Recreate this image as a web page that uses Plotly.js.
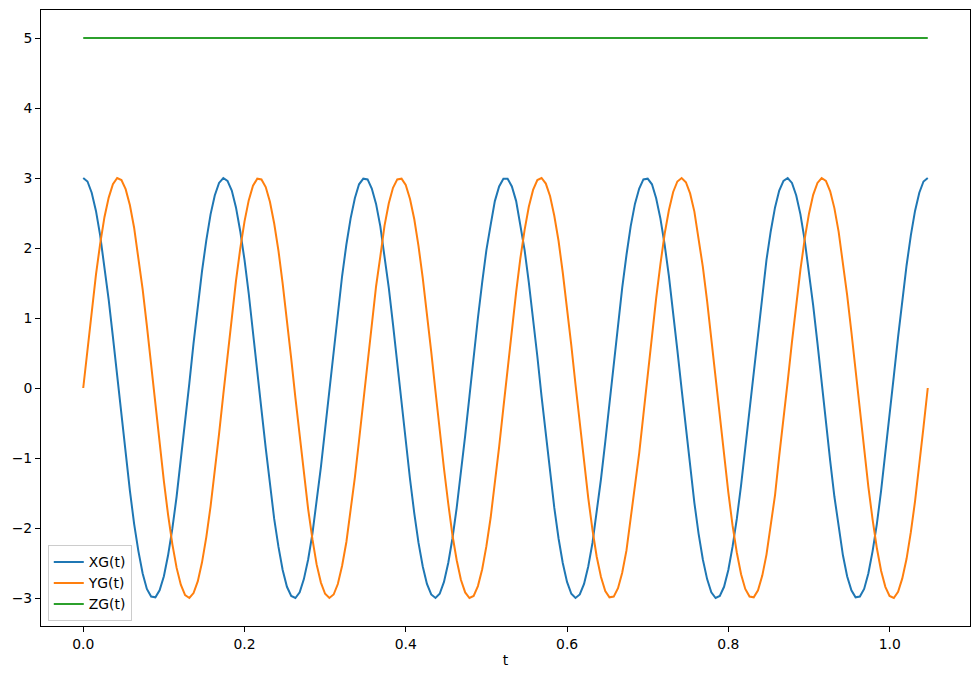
<!DOCTYPE html>
<html>
<head>
<meta charset="utf-8">
<script src="https://cdn.plot.ly/plotly-3.0.1.min.js"></script>
<style>html,body{margin:0;padding:0;background:#fff}#chart{width:980px;height:679px}</style>
</head>
<body>
<div id="chart"></div>
<script>
const t = [0,0.0053,0.0105,0.0158,0.0210,0.0263,0.0316,0.0368,0.0421,0.0474,0.0526,0.0579,0.0631,0.0684,0.0737,0.0789,0.0842,0.0895,0.0947,0.1000,0.1052,0.1105,0.1158,0.1210,0.1263,0.1316,0.1368,0.1421,0.1473,0.1526,0.1579,0.1631,0.1684,0.1737,0.1789,0.1842,0.1894,0.1947,0.2000,0.2052,0.2105,0.2158,0.2210,0.2263,0.2315,0.2368,0.2421,0.2473,0.2526,0.2579,0.2631,0.2684,0.2736,0.2789,0.2842,0.2894,0.2947,0.2999,0.3052,0.3105,0.3157,0.3210,0.3263,0.3315,0.3368,0.3420,0.3473,0.3526,0.3578,0.3631,0.3684,0.3736,0.3789,0.3841,0.3894,0.3947,0.3999,0.4052,0.4105,0.4157,0.4210,0.4262,0.4315,0.4368,0.4420,0.4473,0.4526,0.4578,0.4631,0.4683,0.4736,0.4789,0.4841,0.4894,0.4947,0.4999,0.5052,0.5104,0.5157,0.5210,
0.5262,0.5315,0.5368,0.5420,0.5473,0.5525,0.5578,0.5631,0.5683,0.5736,0.5789,0.5841,0.5894,0.5946,0.5999,0.6052,0.6104,0.6157,0.6210,0.6262,0.6315,0.6367,0.6420,0.6473,0.6525,0.6578,0.6631,0.6683,0.6736,0.6788,0.6841,0.6894,0.6946,0.6999,0.7052,0.7104,0.7157,0.7209,0.7262,0.7315,0.7367,0.7420,0.7473,0.7525,0.7578,0.7630,0.7683,0.7736,0.7788,0.7841,0.7893,0.7946,0.7999,0.8051,0.8104,0.8157,0.8209,0.8262,0.8314,0.8367,0.8420,0.8472,0.8525,0.8578,0.8630,0.8683,0.8735,0.8788,0.8841,0.8893,0.8946,0.8999,0.9051,0.9104,0.9156,0.9209,0.9262,0.9314,0.9367,0.9420,0.9472,0.9525,0.9577,0.9630,0.9683,0.9735,0.9788,0.9841,0.9893,0.9946,0.9998,1.0051,1.0104,1.0156,1.0209,1.0262,1.0314,1.0367,1.0419,1.0472];

const xg = [3.00,2.95,2.79,2.53,2.18,1.75,1.26,0.73,0.17,-0.40,-0.95,-1.47,-1.94,-2.33,-2.65,-2.87,-2.98,-2.99,-2.89,-2.69,-2.39,-2.01,-1.55,-1.04,-0.50,0.07,0.64,1.18,1.67,2.11,2.48,2.75,2.93,3.00,2.96,2.82,2.58,2.24,1.83,1.35,0.82,0.26,-0.31,-0.86,-1.39,-1.87,-2.27,-2.60,-2.84,-2.97,-3.00,-2.92,-2.73,-2.45,-2.08,-1.64,-1.13,-0.59,-0.02,0.54,1.09,1.60,2.05,2.42,2.71,2.91,2.99,2.98,2.85,2.63,2.31,1.90,1.43,0.91,0.35,-0.21,-0.77,-1.30,-1.79,-2.21,-2.55,-2.80,-2.95,-3.00,-2.94,-2.77,-2.50,-2.15,-1.71,-1.22,-0.68,-0.12,0.45,1.00,1.51,1.97,2.33,2.67,2.88,2.99,
2.99,2.88,2.67,2.33,1.97,1.51,1.00,0.45,-0.12,-0.68,-1.22,-1.71,-2.15,-2.50,-2.77,-2.94,-3.00,-2.95,-2.80,-2.55,-2.21,-1.79,-1.30,-0.77,-0.21,0.35,0.91,1.43,1.90,2.31,2.63,2.85,2.98,2.99,2.91,2.71,2.42,2.05,1.60,1.09,0.54,-0.02,-0.59,-1.13,-1.64,-2.08,-2.45,-2.73,-2.92,-3.00,-2.97,-2.84,-2.60,-2.27,-1.87,-1.39,-0.86,-0.31,0.26,0.82,1.35,1.83,2.24,2.58,2.82,2.96,3.00,2.93,2.75,2.48,2.11,1.67,1.18,0.64,0.07,-0.50,-1.04,-1.55,-2.01,-2.39,-2.69,-2.89,-2.99,-2.98,-2.87,-2.65,-2.33,-1.94,-1.47,-0.95,-0.40,0.17,0.73,1.26,1.75,2.18,2.53,2.79,2.95,3.00];

const yg = [0.00,0.56,1.11,1.62,2.06,2.44,2.72,2.91,3.00,2.97,2.84,2.61,2.29,1.88,1.41,0.89,0.33,-0.24,-0.80,-1.33,-1.81,-2.23,-2.57,-2.81,-2.96,-3.00,-2.93,-2.76,-2.49,-2.13,-1.69,-1.20,-0.66,-0.09,0.47,0.97,1.53,1.99,2.38,2.68,2.89,2.99,2.98,2.87,2.66,2.35,1.96,1.49,0.98,0.42,-0.14,-0.70,-1.24,-1.73,-2.16,-2.52,-2.78,-2.94,-3.00,-2.95,-2.80,-2.54,-2.20,-1.77,-1.28,-0.75,-0.19,0.38,0.93,1.45,1.88,2.32,2.64,2.86,2.98,2.99,2.90,2.70,2.41,2.03,1.57,1.07,0.52,-0.05,-0.61,-1.15,-1.65,-2.10,-2.46,-2.74,-2.92,-3.00,-2.97,-2.83,-2.59,-2.26,-1.85,-1.37,-0.84,-0.28,
0.28,0.84,1.37,1.85,2.26,2.59,2.83,2.97,3.00,2.92,2.74,2.46,2.10,1.65,1.15,0.61,0.05,-0.52,-1.07,-1.57,-2.03,-2.41,-2.70,-2.90,-2.99,-2.98,-2.86,-2.64,-2.32,-1.88,-1.45,-0.93,-0.38,0.19,0.75,1.28,1.77,2.20,2.54,2.80,2.95,3.00,2.94,2.78,2.52,2.16,1.73,1.24,0.70,0.14,-0.42,-0.98,-1.49,-1.96,-2.35,-2.66,-2.87,-2.98,-2.99,-2.89,-2.68,-2.38,-1.99,-1.53,-0.97,-0.47,0.09,0.66,1.20,1.69,2.13,2.49,2.76,2.93,3.00,2.96,2.81,2.57,2.23,1.81,1.33,0.80,0.24,-0.33,-0.89,-1.41,-1.88,-2.29,-2.61,-2.84,-2.97,-3.00,-2.91,-2.72,-2.44,-2.06,-1.62,-1.11,-0.56,0.00];

const zg = [5,5,5,5,5,5,5,5,5,5,5,5,5,5,5,5,5,5,5,5,5,5,5,5,5,5,5,5,5,5,5,5,5,5,5,5,5,5,5,5,5,5,5,5,5,5,5,5,5,5,5,5,5,5,5,5,5,5,5,5,5,5,5,5,5,5,5,5,5,5,5,5,5,5,5,5,5,5,5,5,5,5,5,5,5,5,5,5,5,5,5,5,5,5,5,5,5,5,5,5,
5,5,5,5,5,5,5,5,5,5,5,5,5,5,5,5,5,5,5,5,5,5,5,5,5,5,5,5,5,5,5,5,5,5,5,5,5,5,5,5,5,5,5,5,5,5,5,5,5,5,5,5,5,5,5,5,5,5,5,5,5,5,5,5,5,5,5,5,5,5,5,5,5,5,5,5,5,5,5,5,5,5,5,5,5,5,5,5,5,5,5,5,5,5,5,5,5,5,5,5];

const seriesNames = ['XG(t)', 'YG(t)', 'ZG(t)'];
const xTickVals = [0, 0.2, 0.4, 0.6, 0.8, 1.0];
const xTickText = ['0.0', '0.2', '0.4', '0.6', '0.8', '1.0'];
const yTickVals = [-3, -2, -1, 0, 1, 2, 3, 4, 5];
const yTickText = ['\u22123', '\u22122', '\u22121', '0', '1', '2', '3', '4', '5'];
const xLabel = 't';

const colors = ['#1f77b4', '#ff7f0e', '#2ca02c'];
const ys = [xg, yg, zg];
const traces = ys.map((y, k) => ({
  x: t, y: y, type: 'scatter', mode: 'lines', name: seriesNames[k],
  line: {color: colors[k], width: 2}
}));

const font = {family: 'DejaVu Sans, sans-serif', size: 13.9, color: '#000'};
const axisCommon = {
  showgrid: false, zeroline: false, showline: true, mirror: true,
  linecolor: '#000', linewidth: 1, ticks: 'outside', ticklen: 5, tickwidth: 1,
  tickcolor: '#000', tickfont: font, automargin: false
};

const layout = {
  width: 980, height: 679,
  margin: {l: 40.5, r: 10, t: 10, b: 52.7, pad: 0},
  paper_bgcolor: '#fff', plot_bgcolor: '#fff',
  font: font,
  showlegend: true,
  legend: {
    x: 0.0073, y: 0.0075, xanchor: 'left', yanchor: 'bottom',
    bgcolor: 'rgba(255,255,255,0.8)', bordercolor: '#cccccc', borderwidth: 1,
    font: {family: 'DejaVu Sans, sans-serif', size: 13.9, color: '#000'},
    tracegroupgap: 0
  },
  xaxis: Object.assign({}, axisCommon, {
    range: [-0.05236, 1.09956], tickvals: xTickVals, ticktext: xTickText,
    title: {text: xLabel, font: font, standoff: 4}
  }),
  yaxis: Object.assign({}, axisCommon, {
    range: [-3.4, 5.4], tickvals: yTickVals, ticktext: yTickText
  })
};

Plotly.newPlot('chart', traces, layout, {displayModeBar: false, staticPlot: true});
</script>
</body>
</html>
